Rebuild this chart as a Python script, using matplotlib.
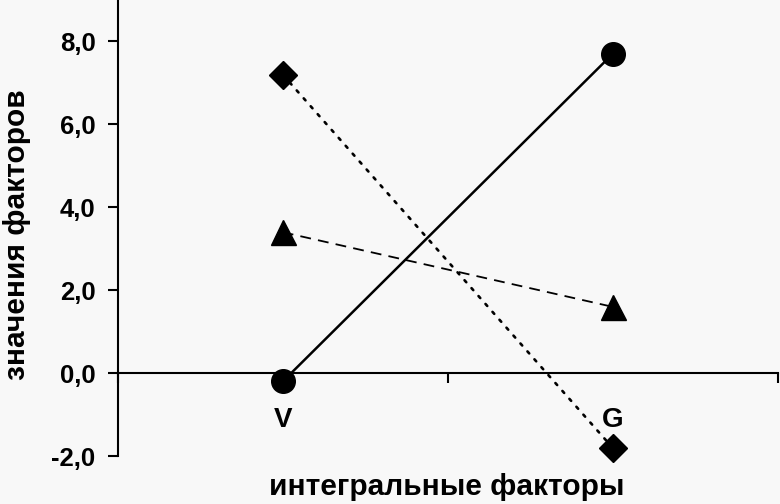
import matplotlib
matplotlib.use('Agg')
from matplotlib import pyplot as plt
import numpy as np

plt.rcParams['font.family'] = ['Liberation Sans', 'DejaVu Sans']

categories = ['V', 'G']
circle_vals = [-0.2, 7.7]
diamond_vals = [7.2, -1.8]
triangle_vals = [3.4, 1.6]
y_ticks = [-2, 0, 2, 4, 6, 8]
y_labels = ['-2,0', '0,0', '2,0', '4,0', '6,0', '8,0']

x = np.arange(len(categories)) + 0.5

fig = plt.figure(figsize=(7.8, 5.04), dpi=100)
bg = '#f8f8f8'
fig.patch.set_facecolor(bg)
ax = fig.add_axes([0.151, 0.095, 0.846, 0.905])
ax.set_facecolor(bg)

ax.plot(x, circle_vals, color='black', lw=1.8, ls='-', marker='o', ms=17,
        clip_on=False, zorder=3)
ax.plot(x, diamond_vals, color='black', lw=1.9, ls=(0, (1, 3.0)), marker='D',
        ms=14, clip_on=False, zorder=3, dash_capstyle='round')
ax.plot(x, triangle_vals, color='black', lw=1.3, ls=(0, (6, 4)), marker='^',
        ms=18, clip_on=False, zorder=3)

ax.set_xlim(0, 2)
ax.set_ylim(-2, 9)

for s in ['top', 'right']:
    ax.spines[s].set_visible(False)
ax.spines['bottom'].set_position(('data', 0))
ax.spines['bottom'].set_linewidth(1.5)
ax.spines['left'].set_linewidth(1.5)

ax.set_yticks(y_ticks)
ax.set_yticklabels(y_labels, fontsize=18.5, fontweight='bold')
ax.tick_params(axis='y', direction='out', length=7, width=1.5, pad=9)

ax.set_xticks([0, 1, 2])
ax.set_xticklabels(['', '', ''])
ax.tick_params(axis='x', which='major', direction='out', length=7, width=1.5)
ax.set_xticks(x, minor=True)
ax.set_xticklabels(categories, minor=True, fontsize=20, fontweight='bold')
ax.tick_params(axis='x', which='minor', length=0, pad=24)

fig.text(0.573, 0.034, 'интегральные факторы', ha='center', va='center',
         fontsize=21.5, fontweight='bold')
fig.text(0.022, 0.534, 'значения факторов', ha='center', va='center',
         rotation=90, fontsize=21.5, fontweight='bold')

fig.savefig('out.png', dpi=100, facecolor=bg)
